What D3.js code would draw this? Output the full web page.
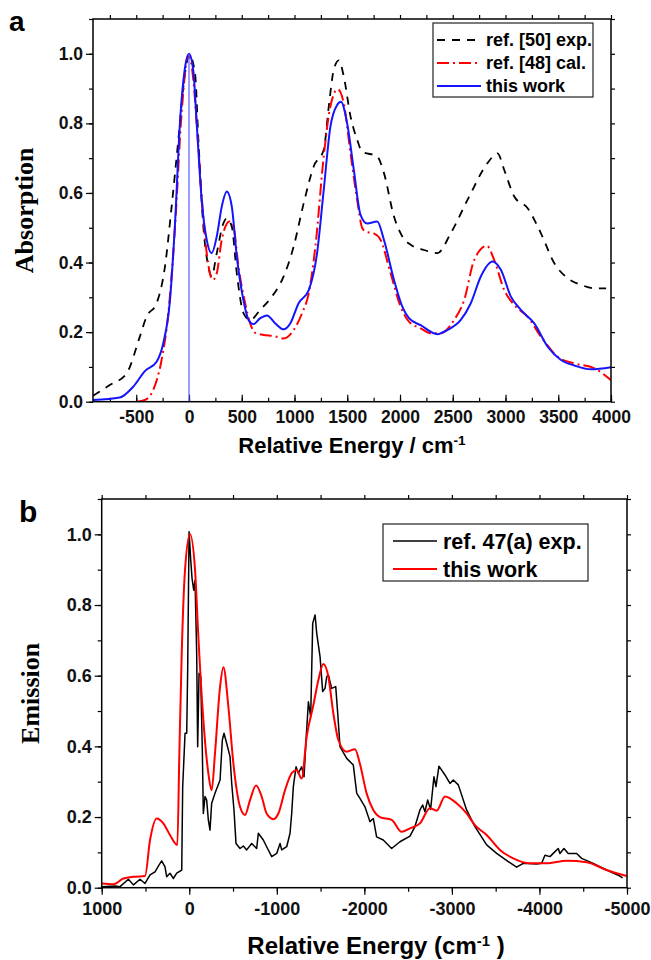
<!DOCTYPE html>
<html>
<head>
<meta charset="utf-8">
<script src="https://cdn.jsdelivr.net/npm/d3@7"></script>
<style>
  body { margin: 0; background: #fff; }
  svg { display: block; }
  .tick-lbl { font-family: "Liberation Sans", Arial, sans-serif; font-weight: bold; }
</style>
</head>
<body>
<svg id="chart" width="651" height="960"></svg>
<script>
/* ── DATA: panel a (absorption) ── */
const absExp = [[-910,0.017],[-751,0.048],[-592,0.081],[-466,0.187],[-403,0.244],[-307,0.283],[-228,0.388],[-165,0.56],[-101,0.753],[-38,0.944],[3,0.997],[57,0.944],[89,0.753],[136,0.503],[184,0.388],[215,0.36],[263,0.427],[326,0.513],[358,0.527],[406,0.503],[453,0.369],[517,0.254],[580,0.235],[675,0.264],[786,0.302],[897,0.36],[992,0.446],[1087,0.57],[1182,0.676],[1277,0.724],[1325,0.849],[1372,0.954],[1420,0.981],[1467,0.935],[1531,0.82],[1594,0.753],[1641,0.719],[1784,0.705],[1848,0.657],[1943,0.532],[2022,0.475],[2101,0.451],[2228,0.436],[2354,0.427],[2481,0.484],[2640,0.58],[2830,0.686],[2925,0.714],[2988,0.666],[3083,0.59],[3210,0.556],[3336,0.484],[3463,0.398],[3590,0.355],[3716,0.336],[3843,0.326],[3954,0.326]];
const absCal = [[-494,0],[-418,0.005],[-339,0.034],[-260,0.12],[-196,0.254],[-133,0.5],[-70,0.83],[-5,0.997],[41,0.925],[73,0.8],[120,0.59],[168,0.427],[225,0.35],[263,0.369],[310,0.465],[383,0.518],[421,0.503],[469,0.388],[532,0.283],[580,0.225],[627,0.198],[707,0.192],[802,0.189],[897,0.182],[992,0.206],[1071,0.254],[1135,0.312],[1198,0.446],[1277,0.705],[1340,0.849],[1410,0.898],[1467,0.858],[1531,0.714],[1594,0.58],[1641,0.5],[1673,0.489],[1752,0.484],[1816,0.465],[1911,0.369],[2006,0.273],[2085,0.23],[2196,0.211],[2291,0.197],[2386,0.197],[2513,0.235],[2608,0.292],[2703,0.407],[2823,0.448],[2893,0.407],[2988,0.321],[3083,0.278],[3210,0.244],[3336,0.187],[3495,0.129],[3653,0.11],[3843,0.096],[4000,0.062]];
const absThis = [[-910,0.005],[-656,0.012],[-529,0.043],[-418,0.088],[-307,0.115],[-244,0.168],[-181,0.29],[-133,0.51],[-86,0.8],[-38,0.96],[0,1.0],[41,0.95],[73,0.8],[120,0.58],[168,0.465],[215,0.427],[263,0.475],[310,0.56],[358,0.604],[406,0.56],[453,0.417],[517,0.29],[564,0.235],[612,0.223],[675,0.24],[739,0.248],[818,0.225],[897,0.208],[960,0.225],[1039,0.283],[1135,0.321],[1214,0.427],[1277,0.609],[1340,0.79],[1404,0.853],[1440,0.862],[1499,0.8],[1562,0.667],[1626,0.537],[1689,0.512],[1784,0.518],[1848,0.465],[1943,0.35],[2022,0.273],[2085,0.24],[2196,0.22],[2354,0.194],[2449,0.206],[2576,0.235],[2671,0.283],[2766,0.36],[2877,0.403],[2956,0.379],[3051,0.302],[3146,0.264],[3273,0.225],[3400,0.158],[3526,0.12],[3653,0.104],[3811,0.093],[4000,0.099]];

/* ── DATA: panel b (emission) ── */
const emExp = [[1000,0.003],[848,0.005],[791,0.003],[695,0.024],[638,0.008],[562,0.024],[505,0.012],[448,0.036],[391,0.045],[353,0.061],[315,0.076],[277,0.059],[258,0.031],[220,0.041],[182,0.026],[143,0.041],[86,0.05],[75,0.286],[48,0.437],[29,0.437],[18,0.616],[2,1.007],[-17,0.927],[-32,0.875],[-51,0.842],[-66,0.87],[-85,0.663],[-96,0.399],[-112,0.607],[-131,0.597],[-150,0.38],[-161,0.21],[-180,0.258],[-199,0.248],[-218,0.192],[-237,0.163],[-256,0.239],[-294,0.267],[-352,0.305],[-378,0.418],[-397,0.437],[-428,0.408],[-466,0.371],[-485,0.295],[-511,0.22],[-534,0.125],[-580,0.111],[-618,0.118],[-656,0.107],[-713,0.125],[-770,0.111],[-789,0.154],[-846,0.135],[-884,0.116],[-942,0.088],[-999,0.097],[-1037,0.125],[-1056,0.107],[-1113,0.116],[-1151,0.154],[-1170,0.21],[-1189,0.286],[-1220,0.342],[-1246,0.324],[-1284,0.342],[-1311,0.314],[-1334,0.418],[-1361,0.526],[-1387,0.484],[-1410,0.748],[-1437,0.772],[-1456,0.72],[-1494,0.654],[-1524,0.555],[-1551,0.564],[-1570,0.597],[-1589,0.602],[-1627,0.564],[-1673,0.569],[-1696,0.493],[-1722,0.399],[-1798,0.366],[-1874,0.347],[-1913,0.267],[-1950,0.253],[-2007,0.229],[-2064,0.187],[-2102,0.196],[-2140,0.144],[-2216,0.135],[-2312,0.111],[-2407,0.13],[-2521,0.146],[-2578,0.173],[-2635,0.22],[-2666,0.234],[-2692,0.215],[-2723,0.248],[-2757,0.222],[-2795,0.314],[-2818,0.286],[-2852,0.344],[-2921,0.319],[-2978,0.295],[-3016,0.305],[-3073,0.291],[-3168,0.22],[-3263,0.173],[-3397,0.121],[-3511,0.097],[-3644,0.074],[-3739,0.058],[-3815,0.069],[-3968,0.067],[-4025,0.069],[-4063,0.092],[-4120,0.088],[-4177,0.102],[-4215,0.111],[-4234,0.097],[-4280,0.111],[-4329,0.097],[-4425,0.097],[-4482,0.083],[-4615,0.069],[-4767,0.05],[-4919,0.033],[-4950,0.028]];
const emThis = [[1000,0.012],[867,0.01],[752,0.026],[638,0.031],[505,0.033],[448,0.135],[372,0.196],[296,0.182],[220,0.149],[136,0.121],[113,0.38],[86,0.663],[48,0.9],[-9,1.0],[-66,0.9],[-104,0.71],[-161,0.475],[-218,0.324],[-256,0.276],[-294,0.38],[-352,0.569],[-390,0.624],[-447,0.512],[-504,0.352],[-580,0.229],[-637,0.206],[-694,0.248],[-763,0.289],[-827,0.258],[-884,0.21],[-961,0.194],[-1018,0.21],[-1094,0.276],[-1170,0.324],[-1227,0.333],[-1284,0.309],[-1341,0.427],[-1418,0.517],[-1475,0.588],[-1532,0.633],[-1589,0.597],[-1646,0.493],[-1703,0.418],[-1798,0.385],[-1893,0.392],[-1950,0.35],[-2026,0.267],[-2102,0.22],[-2178,0.2],[-2312,0.192],[-2426,0.158],[-2521,0.168],[-2635,0.182],[-2749,0.225],[-2826,0.218],[-2921,0.258],[-3054,0.239],[-3168,0.21],[-3263,0.177],[-3397,0.149],[-3549,0.107],[-3701,0.083],[-3892,0.069],[-4082,0.069],[-4310,0.076],[-4539,0.072],[-4767,0.05],[-4996,0.033]];

/* ── TICKS / LABELS ── */
const yTicks = [0, 0.2, 0.4, 0.6, 0.8, 1.0];
const yMinor = d3.range(0, 1.1001, 0.1);
const aXTicks = [-500, 0, 500, 1000, 1500, 2000, 2500, 3000, 3500, 4000];
const aXMinor = d3.range(-750, 4001, 250);
const bXTicks = [1000, 0, -1000, -2000, -3000, -4000, -5000];
const bXMinor = d3.range(1000, -5001, -500);
const aLegend = ['ref. [50] exp.', 'ref. [48] cal.', 'this work'];
const bLegend = ['ref. 47(a) exp.', 'this work'];

const svg = d3.select('#chart');
const SANS = '"Liberation Sans", Arial, sans-serif';
const SERIF = '"Liberation Serif", "Times New Roman", serif';

function panel(o) {
  const g = svg.append('g');
  const x = d3.scaleLinear().domain(o.xDom).range([o.l, o.r]);
  const y = d3.scaleLinear().domain([0, 1.1]).range([o.b, o.t]);

  // minor + major ticks
  g.append('g').attr('transform', `translate(0,${o.b})`)
    .call(d3.axisBottom(x).tickValues(o.xMinor).tickSize(o.bIn ? -4 : 4).tickFormat(''))
    .call(a => a.select('.domain').remove());
  g.append('g').attr('transform', `translate(0,${o.b})`)
    .call(d3.axisBottom(x).tickValues(o.xTicks).tickSize(o.bIn ? -7 : 7).tickPadding(o.xPad).tickFormat(d => String(d)))
    .call(a => a.select('.domain').remove())
    .call(a => a.selectAll('text').attr('class', 'tick-lbl').style('font-size', o.fs + 'px').attr('fill', '#111'));
  g.append('g').attr('transform', `translate(0,${o.t})`)
    .call(d3.axisTop(x).tickValues(o.xMinor).tickSize(4).tickFormat(''))
    .call(a => a.select('.domain').remove());
  g.append('g').attr('transform', `translate(${o.l},0)`)
    .call(d3.axisLeft(y).tickValues(yMinor).tickSize(4).tickFormat(''))
    .call(a => a.select('.domain').remove());
  g.append('g').attr('transform', `translate(${o.l},0)`)
    .call(d3.axisLeft(y).tickValues(yTicks).tickSize(7).tickPadding(3).tickFormat(d3.format('.1f')))
    .call(a => a.select('.domain').remove())
    .call(a => a.selectAll('text').attr('class', 'tick-lbl').style('font-size', o.fs + 'px').attr('fill', '#111'));
  g.append('g').attr('transform', `translate(${o.r},0)`)
    .call(d3.axisRight(y).tickValues(yMinor).tickSize(4).tickFormat(''))
    .call(a => a.select('.domain').remove());
  g.selectAll('.tick line').attr('stroke', '#000').attr('stroke-width', 1.2);

  // clip
  const cid = 'clip' + o.name;
  svg.append('clipPath').attr('id', cid).append('rect')
    .attr('x', o.l).attr('y', o.t).attr('width', o.r - o.l).attr('height', o.b - o.t);
  const plot = g.append('g').attr('clip-path', `url(#${cid})`);

  o.series.forEach(s => {
    const line = d3.line().x(d => x(d[0])).y(d => y(d[1])).curve(s.curve || d3.curveMonotoneX);
    plot.append('path').datum(s.data)
      .attr('fill', 'none').attr('stroke', s.col).attr('stroke-width', s.w)
      .attr('stroke-dasharray', s.dash || null).attr('stroke-linejoin', 'round')
      .attr('d', line);
  });
  if (o.extra) o.extra(plot, x, y);

  // frame
  g.append('rect').attr('x', o.l).attr('y', o.t).attr('width', o.r - o.l).attr('height', o.b - o.t)
    .attr('fill', 'none').attr('stroke', '#000').attr('stroke-width', 1.5);

  // titles
  g.append('text').attr('x', o.xtX).attr('y', o.xtY).attr('text-anchor', 'middle')
    .style('font-family', SANS).style('font-weight', 'bold').style('font-size', o.xtFs + 'px')
    .call(t => {
      t.append('tspan').text(o.xt[0]);
      t.append('tspan').attr('dy', -8).style('font-size', (o.xtFs * 0.62) + 'px').text('-1');
      t.append('tspan').attr('dy', 8).text(o.xt[1]);
    });
  g.append('text').attr('transform', `translate(${o.ytX},${(o.t + o.b) / 2}) rotate(-90)`)
    .attr('text-anchor', 'middle').attr('dy', '0.35em')
    .style('font-family', SERIF).style('font-weight', 'bold').style('font-size', '26px')
    .text(o.yt);
  g.append('text').attr('x', o.lab[1]).attr('y', o.lab[2])
    .style('font-family', SANS).style('font-weight', 'bold').style('font-size', o.lab[3] + 'px')
    .text(o.lab[0]);

  // legend
  const L = o.legend;
  g.append('rect').attr('x', L.x).attr('y', L.y).attr('width', L.w).attr('height', L.h)
    .attr('fill', '#fff').attr('stroke', '#222').attr('stroke-width', 1.2);
  L.names.forEach((n, i) => {
    const s = o.series[i];
    const yy = L.y + L.first + i * L.step;
    g.append('line').attr('x1', L.x + L.lx0).attr('x2', L.x + L.lx1).attr('y1', yy).attr('y2', yy)
      .attr('stroke', s.col).attr('stroke-width', s.w).attr('stroke-dasharray', s.dash || null);
    g.append('text').attr('x', L.x + L.tx).attr('y', yy).attr('dy', '0.36em')
      .style('font-family', SANS).style('font-weight', 'bold').style('font-size', L.fs + 'px')
      .text(n);
  });
}

/* ── PANEL a ── */
panel({
  name: 'a', l: 93, r: 611, t: 19, b: 401.7, xDom: [-910, 4000],
  xTicks: aXTicks, xMinor: aXMinor, bIn: true, xPad: 9, fs: 17.5,
  series: [
    { data: absExp, col: '#000', w: 1.8, dash: '8,7' },
    { data: absCal, col: '#f00', w: 2, dash: '12,4,2,4' },
    { data: absThis, col: '#1414ff', w: 2 }
  ],
  extra: (p, x, y) => {
    p.append('line').attr('x1', x(0)).attr('x2', x(0)).attr('y1', y(0)).attr('y2', y(1))
      .attr('stroke', '#5a5aff').attr('stroke-width', 1.2);
  },
  xt: ['Relative Energy / cm', ''], xtX: 352, xtY: 453, xtFs: 22,
  yt: 'Absorption', ytX: 24,
  lab: ['a', 9, 31, 28],
  legend: { x: 433, y: 23, w: 160, h: 74, first: 17, step: 23, lx0: 4, lx1: 48, tx: 53, fs: 18, names: aLegend }
});

/* ── PANEL b ── */
panel({
  name: 'b', l: 101.7, r: 627, t: 499, b: 887.7, xDom: [1000, -5000],
  xTicks: bXTicks, xMinor: bXMinor, bIn: false, xPad: 8, fs: 18,
  series: [
    { data: emExp, col: '#000', w: 1.5, curve: d3.curveLinear },
    { data: emThis, col: '#f00', w: 2 }
  ],
  xt: ['Relative Energy (cm', ' )'], xtX: 376, xtY: 954, xtFs: 24,
  yt: 'Emission', ytX: 30,
  lab: ['b', 19, 522, 30],
  legend: { x: 383, y: 524, w: 205, h: 57, first: 17, step: 28, lx0: 10, lx1: 54, tx: 60, fs: 21.5, names: bLegend }
});
</script>
</body>
</html>
